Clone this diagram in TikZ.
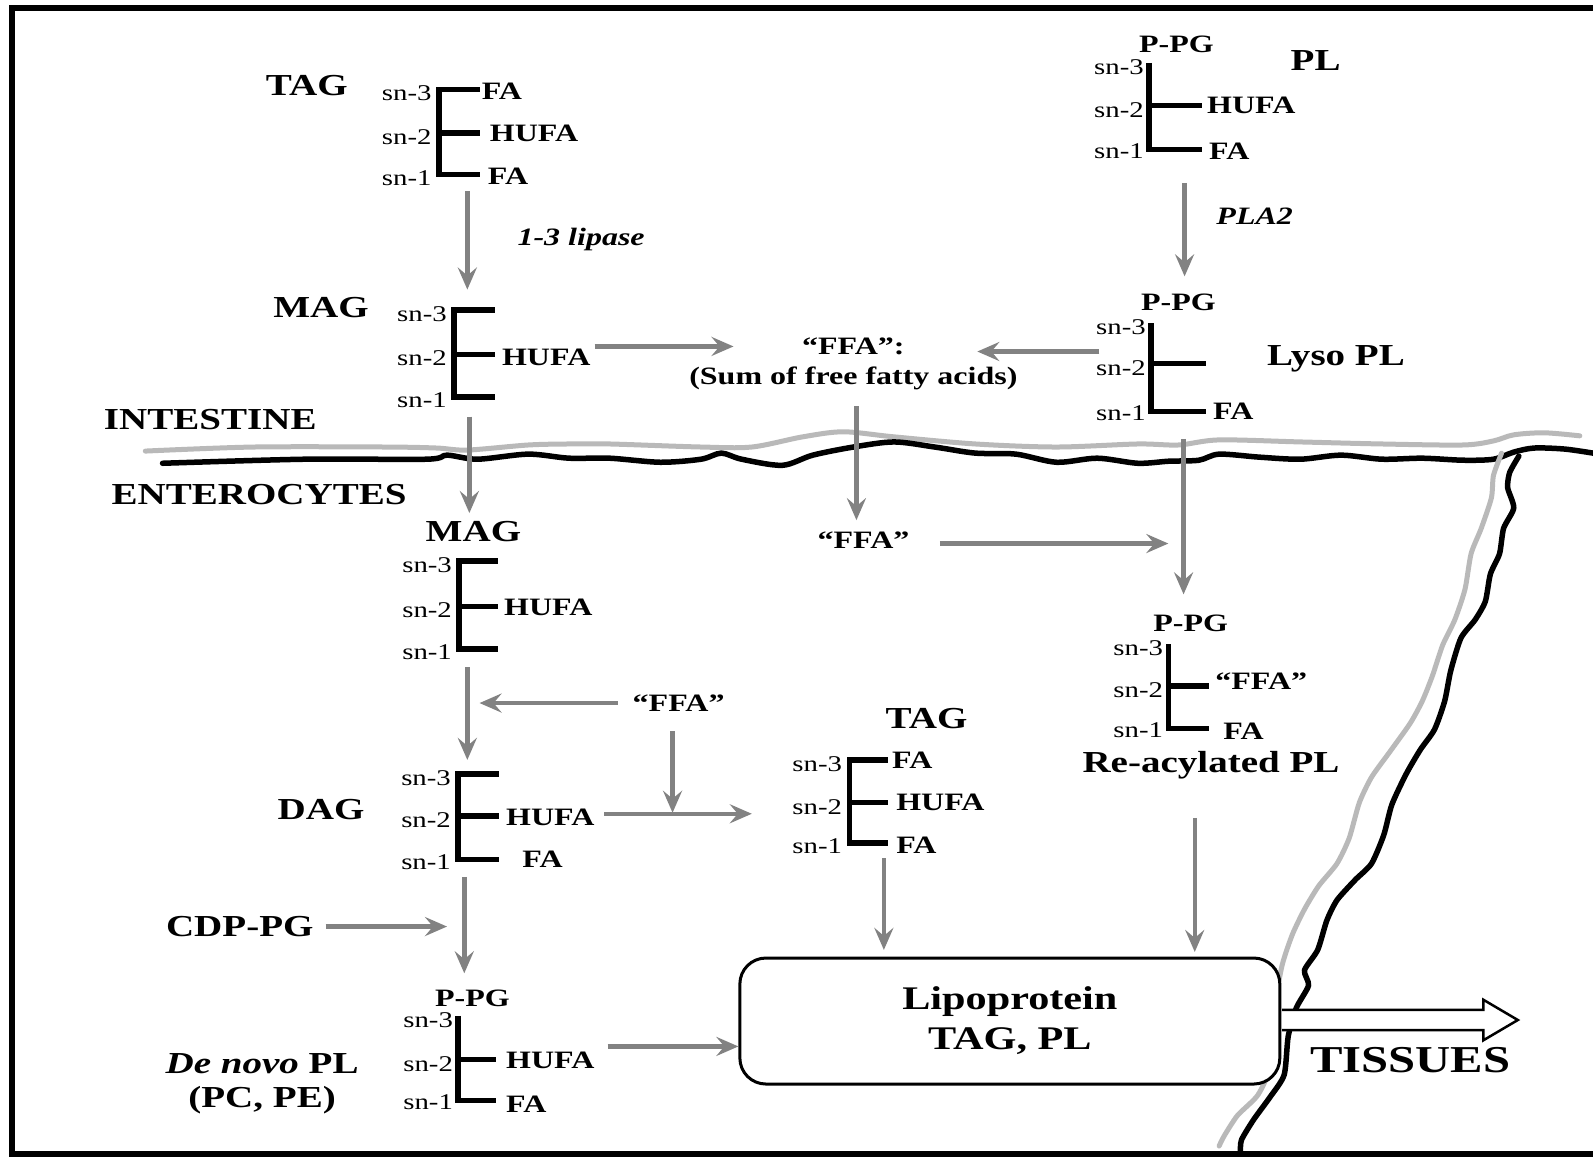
\documentclass[tikz,border=0pt]{standalone}
\usepackage{fontspec}
\setmainfont{Liberation Serif}[FakeStretch=1.28]
\usetikzlibrary{arrows.meta}
\definecolor{arrgray}{RGB}{130,130,130}
\definecolor{memgray}{RGB}{185,185,185}
\tikzset{
  big/.style={font=\fontsize{30.5}{32}\selectfont\bfseries, inner sep=0pt},
  med/.style={font=\fontsize{25}{27}\selectfont\bfseries, inner sep=0pt},
  snl/.style={font=\fontsize{22.5}{24}\selectfont, inner sep=0pt, anchor=east},
  arr/.style={draw=arrgray, line width=4.5pt, -{Stealth[length=22pt,width=19pt,inset=8pt]}},
  bk/.style={line width=5.5pt, line join=miter, line cap=butt},
  blackmem/.style={line width=5.5pt, black, line join=round, line cap=round},
  graymem/.style={line width=5pt, memgray, line join=round, line cap=round}
}
% E-shaped glycerol backbone: name, x, ytop, ymid, ybot, ticklength
\newcommand{\Ebr}[6]{%
  \draw[bk] (#2+#6,#3) -- (#2,#3) -- (#2,#5) -- (#2+#6,#5);
  \draw[bk] (#2,#4) -- (#2+#6,#4);
  \node[snl] (#1s3) at (#2-7,#3+4) {sn-3};
  \node[snl] (#1s2) at (#2-7,#4+4) {sn-2};
  \node[snl] (#1s1) at (#2-7,#5+3) {sn-1};
}
% L-shaped backbone (no sn-3 tick)
\newcommand{\Lbr}[6]{%
  \draw[bk] (#2,#3) -- (#2,#5) -- (#2+#6,#5);
  \draw[bk] (#2,#4) -- (#2+#6,#4);
  \node[snl] (#1s3) at (#2-5,#3+4) {sn-3};
  \node[snl] (#1s2) at (#2-5,#4+4) {sn-2};
  \node[snl] (#1s1) at (#2-5,#5+2) {sn-1};
}
\begin{document}
\begin{tikzpicture}[x=1.016pt,y=-1.016pt]
\useasboundingbox (0,0) rectangle (1568,1139);
\fill[white] (0,0) rectangle (1568,1139);
% frame
\draw[line width=6.5pt] (1568,8) -- (12,8) -- (12,1136) -- (1568,1136);

% membranes
\draw[graymem] plot[smooth, tension=0.5] coordinates {(143,444) (250,440) (380,440) (430,441) (460,443) (520,438) (560,437) (600,437) (690,440) (740,440) (790,430) (830,425) (880,430) (960,437) (1040,440) (1120,437) (1160,438) (1200,433) (1280,435) (1360,437) (1440,438) (1470,434) (1490,428) (1520,426) (1555,429)};
\draw[blackmem] plot[smooth, tension=0.5] coordinates {(160,456) (300,452) (420,452) (440,448) (470,452) (520,447) (560,451) (600,451) (650,455) (690,452) (710,446) (730,452) (770,458) (800,448) (840,440) (880,435) (920,440) (960,446) (1000,447) (1040,455) (1080,451) (1120,456) (1150,454) (1180,453) (1200,447) (1240,450) (1280,452) (1320,448) (1360,452) (1400,451) (1440,453) (1470,452) (1490,445) (1510,441) (1540,442) (1568,446)};
\draw[graymem] plot[smooth, tension=0.4] coordinates {(1478,446) (1470,468) (1468,490) (1458,520) (1448,545) (1442,580) (1432,610) (1420,635) (1410,665) (1400,690) (1388,712) (1368,740) (1350,765) (1338,790) (1328,825) (1316,850) (1298,872) (1284,895) (1272,920) (1262,950) (1255,990) (1250,1050) (1238,1078) (1218,1098) (1205,1118) (1200,1128)};
\draw[blackmem] plot[smooth, tension=0.4] coordinates {(1495,449) (1486,465) (1484,480) (1490,500) (1480,520) (1476,545) (1467,565) (1462,592) (1452,610) (1438,628) (1428,660) (1422,690) (1412,718) (1398,738) (1384,762) (1370,792) (1362,822) (1350,850) (1334,866) (1316,886) (1306,906) (1297,935) (1284,955) (1288,970) (1276,992) (1268,1020) (1264,1058) (1250,1080) (1234,1102) (1222,1122) (1221,1134)};

% ---------- intestine lumen ----------
\node[big] (tag1) at (302,84) {TAG};
\Ebr{ta}{432}{88}{131}{172}{40}
\node[med, anchor=west] (ta3) at (474,90) {FA};
\node[med, anchor=west] (ta2) at (482,131) {HUFA};
\node[med, anchor=west] (ta1) at (480,173) {FA};

\coordinate (a1s) at (460,188); \coordinate (a1e) at (460,285);
\draw[arr] (a1s) -- (a1e);
\node[med, font=\fontsize{25}{27}\selectfont\bfseries\itshape] (lip) at (572,236) {1-3 lipase};

\node[big] (mag1) at (316,303) {MAG};
\Ebr{ma}{447}{305}{349}{391}{40}
\node[med, anchor=west] (ma2) at (494,352) {HUFA};

\node[med] (ffa1) at (840,341) {“FFA”:};
\node[med] (ffa1b) at (840,372) {(Sum of free fatty acids)};
\coordinate (a2e) at (722,341);
\draw[arr] ([xshift=4pt]ma2.east |- a2e) -- (a2e);
\coordinate (a3s) at (1082,346); \coordinate (a3e) at (962,346);
\draw[arr] (a3s) -- (a3e);

\node[med] (ppg1) at (1158,44) {P-PG};
\node[big] (pl) at (1295,60) {PL};
\Lbr{pa}{1131}{62}{104}{147}{52}
\node[med, anchor=west] (pa2) at (1188,104) {HUFA};
\node[med, anchor=west] (pa1) at (1190,149) {FA};
\coordinate (a4s) at (1166,180); \coordinate (a4e) at (1166,272);
\draw[arr] (a4s) -- (a4e);
\node[med, font=\fontsize{25}{27}\selectfont\bfseries\itshape] (pla) at (1235,213) {PLA2};

\node[med] (ppg2) at (1160,298) {P-PG};
\Lbr{pb}{1133}{318}{358}{405}{54}
\node[med, anchor=west] (pb1) at (1194,405) {FA};
\node[big] (lyso) at (1315,353) {Lyso PL};

\node[big] (intes) at (207,413) {INTESTINE};
\node[big] (entero) at (255,487) {ENTEROCYTES};

% ---------- enterocytes ----------
\coordinate (a5s) at (462,410); \coordinate (a5e) at (462,505);
\draw[arr] (a5s) -- (a5e);
\node[big] (mag2) at (466,523) {MAG};
\Ebr{mb}{452}{552}{597}{639}{38}
\node[med, anchor=west] (mb2) at (496,598) {HUFA};

\coordinate (a6s) at (460,657); \coordinate (a6e) at (460,748);
\draw[arr] (a6s) -- (a6e);
\node[med] (ffa2) at (668,692) {“FFA”};
\coordinate (a7s) at (608,692); \coordinate (a7e) at (472,692);
\draw[arr] (a7s) -- (a7e);
\coordinate (a8s) at (662,720); \coordinate (a8e) at (662,800);
\draw[arr] (a8s) -- (a8e);

\node[big] (dag) at (316,797) {DAG};
\Ebr{da}{451}{762}{803}{846}{40}
\node[med, anchor=west] (da2) at (498,805) {HUFA};
\node[med, anchor=west] (da1) at (514,846) {FA};
\coordinate (a9s) at (595,801); \coordinate (a9e) at (740,801);
\draw[arr] (a9s) -- (a9e);

\node[big] (tag2) at (912,707) {TAG};
\Ebr{tb}{836}{748}{790}{830}{38}
\node[med, anchor=west] (tb3) at (878,748) {FA};
\node[med, anchor=west] (tb2) at (882,790) {HUFA};
\node[med, anchor=west] (tb1) at (882,832) {FA};
\coordinate (a10s) at (870,845); \coordinate (a10e) at (870,935);
\draw[arr] (a10s) -- (a10e);

\coordinate (a11s) at (843,400); \coordinate (a11e) at (843,512);
\draw[arr] (a11s) -- (a11e);
\node[med] (ffa3) at (850,532) {“FFA”};
\coordinate (a12s) at (925,535); \coordinate (a12e) at (1150,535);
\draw[arr] (a12s) -- (a12e);
\coordinate (a13s) at (1165,432); \coordinate (a13e) at (1165,585);
\draw[arr] (a13s) -- (a13e);

\node[med] (ppg3) at (1172,614) {P-PG};
\Lbr{ra}{1150}{634}{675}{717}{40}
\node[med, anchor=west] (ra2) at (1196,670) {“FFA”};
\node[med, anchor=west] (ra1) at (1204,720) {FA};
\node[big] (reac) at (1192,753) {Re-acylated PL};
\coordinate (a14s) at (1176,805); \coordinate (a14e) at (1176,937);
\draw[arr] (a14s) -- (a14e);

\node[big] (cdp) at (236,912) {CDP-PG};
\coordinate (a15e) at (440,912);
\draw[arr] ([xshift=12pt]cdp.east |- a15e) -- (a15e);
\coordinate (a16s) at (457,863); \coordinate (a16e) at (457,958);
\draw[arr] (a16s) -- (a16e);

\node[med] (ppg4) at (465,983) {P-PG};
\Lbr{dn}{451}{1000}{1043}{1083}{37}
\node[med, anchor=west] (dn2) at (498,1044) {HUFA};
\node[med, anchor=west] (dn1) at (498,1087) {FA};
\node[big] (denovo) at (258,1047) {\textit{De novo} PL};
\node[big] (pcpe) at (258,1083) {(PC, PE)};

% lipoprotein box
\node[draw, line width=3pt, fill=white, rounded corners=26pt, minimum width=540pt, minimum height=126pt,
      align=center, font=\fontsize{33}{40}\selectfont\bfseries] (lipo) at (994,1005) {Lipoprotein\\TAG, PL};
\coordinate (a17s) at (598,1030);
\draw[arr] (a17s) -- (a17s -| lipo.west);

% tissues arrow
\coordinate (tw) at (1262,1004);
\coordinate (tt) at (1494,1004);
\fill[white] (1262,994) -- (1460,994) -- (1460,984) -- (tt) -- (1460,1024) -- (1460,1014) -- (1262,1014) -- cycle;
\draw[line width=2.5pt, line join=miter] (1262,994) -- (1460,994) -- (1460,984) -- (tt) -- (1460,1024) -- (1460,1014) -- (1262,1014);
\node[font=\fontsize{38}{40}\selectfont\bfseries, inner sep=0pt] (tis) at (1388,1043) {TISSUES};
\end{tikzpicture}
\end{document}
